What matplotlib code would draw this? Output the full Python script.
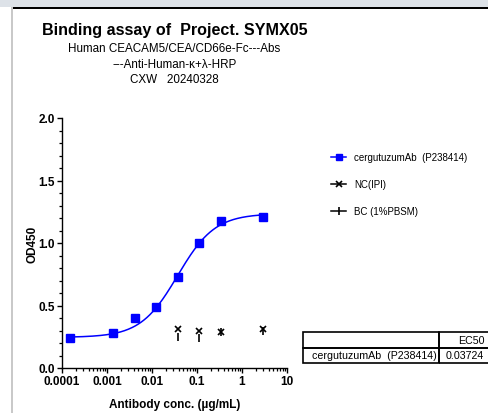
import numpy as np
import matplotlib
matplotlib.use('Agg')
import matplotlib.pyplot as plt
from matplotlib.lines import Line2D
from matplotlib.patches import Rectangle

plt.rcParams['font.family'] = ['Liberation Sans', 'DejaVu Sans']

# 样品数据
conc = [0.000152, 0.00137, 0.0041, 0.0123, 0.037, 0.111, 0.333, 3.0]
od_sample = [0.24, 0.28, 0.40, 0.49, 0.73, 1.00, 1.18, 1.21]
nc_conc = [0.037, 0.111, 0.333, 3.0]
od_nc = [0.31, 0.30, 0.29, 0.31]
bc_conc = [0.037, 0.111, 0.333, 3.0]
od_bc = [0.245, 0.24, 0.29, 0.30]
# 四参数拟合结果
fit_bottom, fit_top, fit_ec50, fit_hill = 0.245, 1.235, 0.03724, 1.05
sample_name = 'cergutuzumAb  (P238414)'
x_ticks = [0.0001, 0.001, 0.01, 0.1, 1, 10]
x_ticklabels = ['0.0001', '0.001', '0.01', '0.1', '1', '10']
y_ticks = [0.0, 0.5, 1.0, 1.5, 2.0]

fig = plt.figure(figsize=(4.88, 4.14), dpi=100)
fig.patch.set_facecolor('white')
# 窗口边框
fig.add_artist(Rectangle((0, 1 - 7.5/414), 1, 7.5/414, transform=fig.transFigure, color='#dde2e8', lw=0))
fig.add_artist(Rectangle((13/488, 1 - 9.5/414), 1, 2/414, transform=fig.transFigure, color='black', lw=0))
fig.add_artist(Rectangle((11/488, 0), 2.2/488, 1 - 7.5/414, transform=fig.transFigure, color='#c9c9c9', lw=0))

ax = fig.add_axes([62/488, 1 - 369/414, 225/488, 250/414])
xs = np.logspace(np.log10(min(conc)), np.log10(max(conc)), 200)
ys = fit_bottom + (fit_top - fit_bottom) / (1 + (fit_ec50 / xs) ** fit_hill)
ax.plot(xs, ys, color='#0000ff', lw=1.1)
ax.plot(conc, od_sample, 's', color='#0000ff', ms=5.8, mec='#0000ff')
ax.plot(nc_conc, od_nc, 'x', color='black', ms=4.5, mew=1.2)
ax.plot(bc_conc, od_bc, '|', color='black', ms=5.5, mew=1.2)

ax.set_xscale('log')
ax.set_xlim(1e-4, 10)
ax.set_ylim(0, 2.0)
ax.set_xticks(x_ticks)
ax.set_xticklabels(x_ticklabels)
ax.set_yticks(y_ticks)
ax.set_yticklabels(['%.1f' % v for v in y_ticks])
ax.yaxis.set_minor_locator(matplotlib.ticker.MultipleLocator(0.1))
ax.xaxis.set_minor_locator(matplotlib.ticker.LogLocator(base=10, subs=np.arange(2, 10)))
ax.xaxis.set_minor_formatter(matplotlib.ticker.NullFormatter())
for s in ['top', 'right']:
    ax.spines[s].set_visible(False)
for s in ['left', 'bottom']:
    ax.spines[s].set_linewidth(1.0)
ax.tick_params(which='major', length=3.8, width=1.0, labelsize=8.5, pad=1.5)
ax.tick_params(which='minor', length=2.2, width=0.9)
for lab in ax.get_xticklabels() + ax.get_yticklabels():
    lab.set_fontweight('bold')
ax.set_xlabel('Antibody conc. (µg/mL)', fontsize=8.5, fontweight='bold', labelpad=8)
ax.set_ylabel('OD450', fontsize=8.5, fontweight='bold', labelpad=0)

# 标题
fig.text(174.5/488, 1 - 31/414, 'Binding assay of  Project. SYMX05', ha='center', va='center',
         fontsize=11.6, fontweight='bold')
fig.text(174.5/488, 1 - 64.5/414, 'Human CEACAM5/CEA/CD66e-Fc---Abs\n---Anti-Human-κ+λ-HRP\nCXW   20240328',
         ha='center', va='center', fontsize=8.4, linespacing=1.36)

# 图例
handles = [Line2D([], [], color='#0000ff', marker='s', ms=5, lw=1.1),
           Line2D([], [], color='black', marker='x', ms=4.5, mew=1.2, lw=1.1),
           Line2D([], [], color='black', marker='|', ms=5.5, mew=1.2, lw=1.1)]
labels = [sample_name, 'NC(IPI)', 'BC (1%PBSM)']
ax.legend(handles, labels, loc='upper left', bbox_to_anchor=(1.178, 0.878), frameon=False,
          fontsize=7, handlelength=1.6, handletextpad=0.8, labelspacing=1.75, borderaxespad=0)

# EC50 表格 (像素坐标)
px = lambda x: x / 488
py = lambda y: 1 - y / 414
tbl_left, tbl_mid, tbl_right = 303, 439, 503
tbl_top, tbl_row, tbl_bottom = 333, 348.5, 364
for (x0, x1, y0, y1) in [(tbl_left, tbl_mid, tbl_top, tbl_row), (tbl_mid, tbl_right, tbl_top, tbl_row),
                         (tbl_left, tbl_mid, tbl_row, tbl_bottom), (tbl_mid, tbl_right, tbl_row, tbl_bottom)]:
    fig.add_artist(Rectangle((px(x0), py(y1)), px(x1) - px(x0), py(y0) - py(y1),
                             transform=fig.transFigure, fill=False, ec='black', lw=1.2))
fig.text(px((tbl_mid + tbl_right) / 2), py((tbl_top + tbl_row) / 2), 'EC50', ha='center', va='center', fontsize=7.7)
fig.text(px(tbl_mid - 2), py((tbl_row + tbl_bottom) / 2), sample_name, ha='right', va='center', fontsize=7.7)
fig.text(px(tbl_mid + 7), py((tbl_row + tbl_bottom) / 2), '%.5f' % fit_ec50, ha='left', va='center', fontsize=7.7)

fig.savefig('out.png', dpi=100)
